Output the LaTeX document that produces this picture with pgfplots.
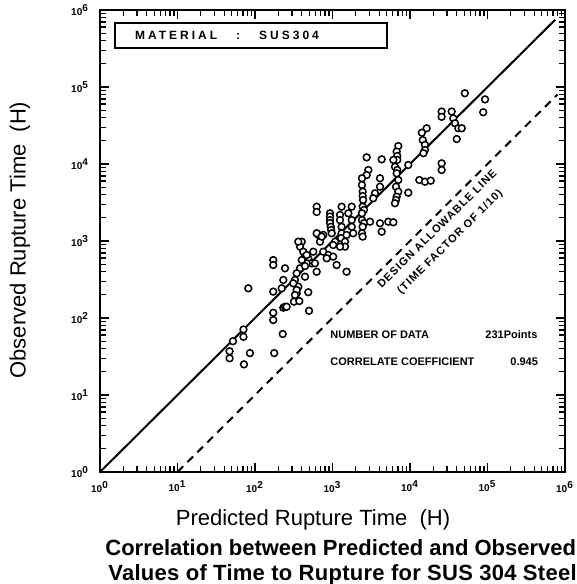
\documentclass[border=0pt]{standalone}
\usepackage{pgfplots}
\usepackage{pgfplotstable}
\pgfplotsset{compat=1.18}
\usepackage{fontspec}
\setmainfont{Liberation Sans}

% Rupture time: predicted (x) and observed (y), hours
\pgfplotstableread{
x y
51000 83000
93000 69000
88000 47000
25600 48000
25600 41000
34500 48000
36200 39200
38100 33800
42000 29100
46500 29100
40100 21100
16400 29100
14200 25500
14600 20500
15600 17700
15600 15200
14900 13800
9500 9700
25600 10200
25600 8360
13200 6200
15600 5890
18500 6070
9500 4240
7060 17100
6730 14500
6850 12700
6850 11300
6400 9200
6850 8360
6730 7570
7060 6200
6600 5070
7060 4370
6730 3760
6600 3410
6400 3090
6100 11300
4310 11500
2760 12200
2900 8360
2760 7200
2400 6520
2400 5340
2450 4370
2450 3840
2480 3410
2450 2790
2550 2530
2400 2290
2400 1870
2550 1710
2450 1530
2400 1260
2450 1140
3050 1780
4100 6520
4100 5070
3530 4160
3360 3590
4100 1700
4310 1320
5250 1780
6100 1750
1770 2790
1600 2290
1770 1870
1770 1530
1850 1260
1310 2790
625 2790
625 2380
929 2290
929 2080
929 1870
929 1710
950 1530
960 1390
977 1260
1250 2180
1250 1870
1310 1530
1310 1260
1290 1090
1520 1200
1450 980
1450 844
656 1200
761 1200
690 980
1080 980
1250 844
1020 887
761 726
883 658
1020 626
1130 488
1520 399
401 980
381 844
420 726
442 626
487 596
538 513
465 513
381 442
345 381
442 344
328 312
362 255
172 566
172 488
244 442
232 312
221 243
82 243
172 220
172 117
172 94
232 136
228 62
498 124
318 163
373 166
345 209
487 216
71 71
71 57
52 50
47 37
47 30
86 35
72 25
177 35
244 140
362 980
625 1260
726 1140
401 566
465 658
442 473
312 282
345 231
328 199
565 726
594 513
625 399
841 596
256 140
}\sustable

\begin{document}
\begin{tikzpicture}
\path[use as bounding box] (-50pt,-56pt) rectangle (238.5pt,236pt);
\begin{axis}[
  xmode=log, ymode=log,
  scale only axis, width=232.5pt, height=231pt,
  xmin=1, xmax=1e6, ymin=1, ymax=1e6,
  axis line style={line width=1.2pt},
  tick align=inside, xtick pos=both, ytick pos=both,
  major tick length=4.5pt, minor tick length=2.8pt,
  every tick/.style={black, line width=0.6pt},
  xtick={1,10,100,1000,10000,100000,1000000},
  ytick={1,10,100,1000,10000,100000,1000000},
  minor xtick={2,3,4,5,6,7,8,9,20,30,40,50,60,70,80,90,200,300,400,500,600,700,800,900,2000,3000,4000,5000,6000,7000,8000,9000,20000,30000,40000,50000,60000,70000,80000,90000,200000,300000,400000,500000,600000,700000,800000,900000},
  minor ytick={2,3,4,5,6,7,8,9,20,30,40,50,60,70,80,90,200,300,400,500,600,700,800,900,2000,3000,4000,5000,6000,7000,8000,9000,20000,30000,40000,50000,60000,70000,80000,90000,200000,300000,400000,500000,600000,700000,800000,900000},
  xticklabels={10\textsuperscript{0},10\textsuperscript{1},10\textsuperscript{2},10\textsuperscript{3},10\textsuperscript{4},10\textsuperscript{5},10\textsuperscript{6}},
  yticklabels={10\textsuperscript{0},10\textsuperscript{1},10\textsuperscript{2},10\textsuperscript{3},10\textsuperscript{4},10\textsuperscript{5},10\textsuperscript{6}},
  tick label style={font=\fontsize{5}{6}\selectfont\bfseries},
  xticklabel style={yshift=-1pt},
  yticklabel style={xshift=-2pt},
  clip=false,
]
% one-to-one line
\addplot[black, line width=1pt] coordinates {(1,1) (7.5e5,7.5e5)};
% design allowable line, time factor of ten
\addplot[black, line width=1pt, dash pattern=on 4pt off 3pt] coordinates {(10,1) (8e5,8e4)};
\addplot[only marks, mark=*, mark size=1.7pt,
  mark options={draw=black, fill=white, line width=0.75pt}] table {\sustable};
\end{axis}

% material box
\draw[line width=1pt] (7.5pt,212pt) rectangle (143.5pt,224.5pt);
\node[anchor=west, font=\fontsize{6}{7}\selectfont\bfseries\addfontfeature{LetterSpace=25}]
  at (14pt,218.2pt) {MATERIAL\ \ \ :\ \ \ SUS304};

% statistics
\begin{scope}[every node/.style={anchor=west, inner sep=0pt, font=\fontsize{5.5}{6}\selectfont\bfseries}]
\node at (115pt,68.5pt) {NUMBER OF DATA};
\node at (192.5pt,68.5pt) {231Points};
\node at (115pt,55pt) {CORRELATE COEFFICIENT};
\node at (205pt,55pt) {0.945};
\end{scope}

% label along the design line
\node[rotate=44.8, align=center, inner sep=0pt,
  font=\fontsize{5.5}{9}\selectfont\bfseries\addfontfeature{LetterSpace=10}]
  at (172pt,118pt) {DESIGN ALLOWABLE LINE\\(TIME FACTOR OF 1/10)};

% axis titles and caption
\node[rotate=90, font=\fontsize{11}{12}\selectfont] at (-40pt,116pt) {Observed Rupture Time\ \ (H)};
\node[font=\fontsize{11}{12}\selectfont] at (106.5pt,-24pt) {Predicted Rupture Time\ \ (H)};
\node[anchor=west, inner sep=0pt, font=\fontsize{11}{12}\selectfont\bfseries] at (2.5pt,-38pt) {Correlation between Predicted and Observed};
\node[anchor=west, inner sep=0pt, font=\fontsize{11}{12}\selectfont\bfseries\addfontfeature{LetterSpace=1.2}] at (4pt,-51.5pt) {Values of Time to Rupture for SUS 304 Steel};
\end{tikzpicture}
\end{document}
